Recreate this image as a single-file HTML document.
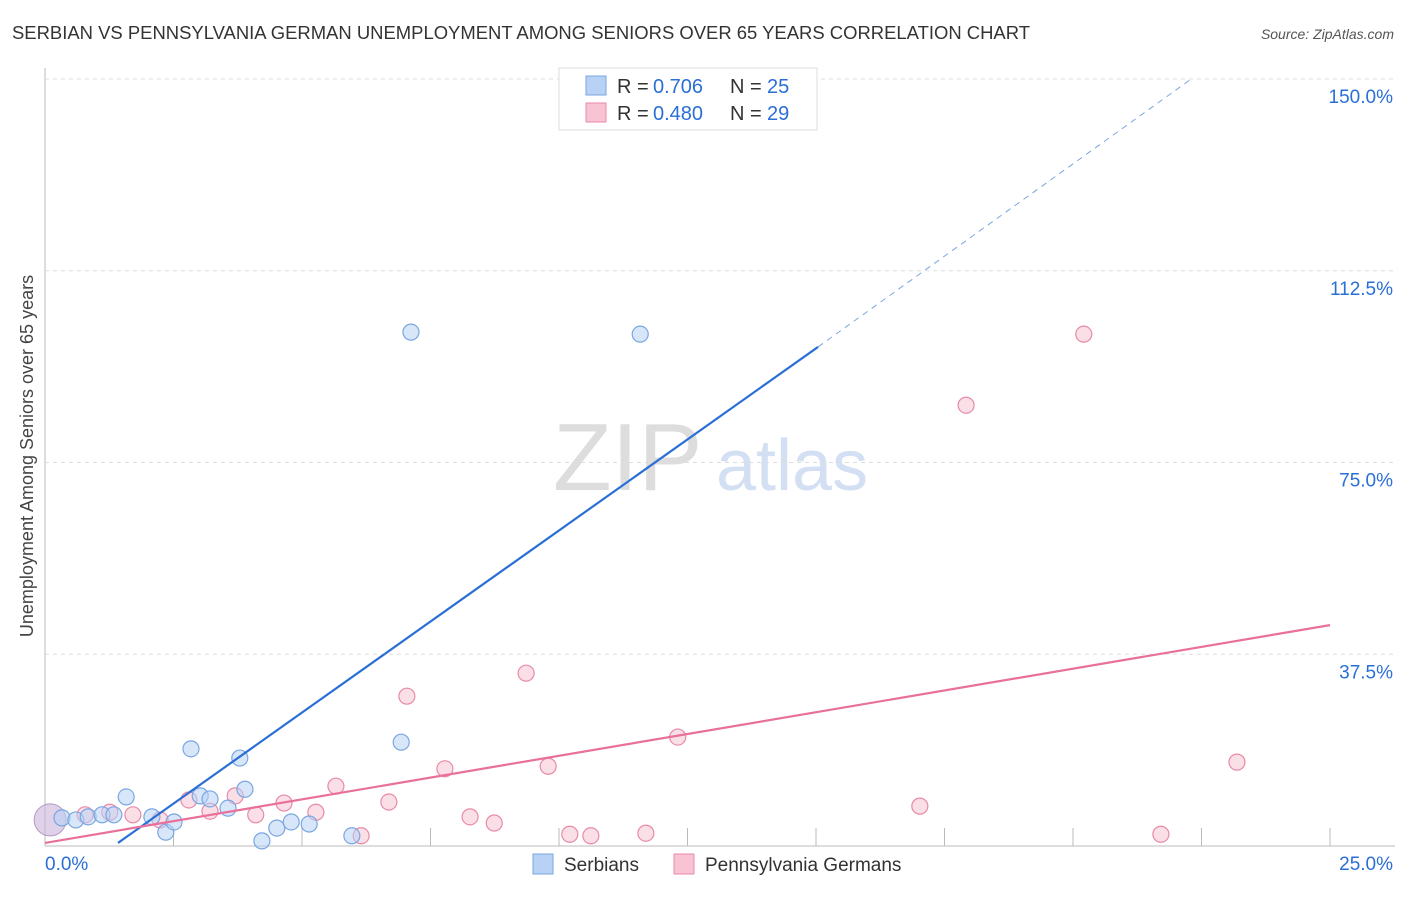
<!DOCTYPE html>
<html><head><meta charset="utf-8"><style>
body{margin:0;background:#fff;font-family:"Liberation Sans",sans-serif;}
svg text{font-family:"Liberation Sans",sans-serif;}
</style></head><body>
<svg id="c" width="1406" height="892">
<text x="12" y="39" font-size="18" fill="#333" textLength="1018" lengthAdjust="spacingAndGlyphs">SERBIAN VS PENNSYLVANIA GERMAN UNEMPLOYMENT AMONG SENIORS OVER 65 YEARS CORRELATION CHART</text>
<text x="1394" y="39" font-size="14" fill="#555" font-style="italic" text-anchor="end">Source: ZipAtlas.com</text>
<text transform="translate(33,456) rotate(-90)" font-size="18" fill="#444" text-anchor="middle">Unemployment Among Seniors over 65 years</text>
<text x="553" y="490" font-size="96" fill="#ddd" font-family="Liberation Serif">ZIP</text>
<text x="716" y="490" font-size="72" fill="#d3dff2">atlas</text>
<g id="grid"></g><g id="marks"></g>
<g>
<rect x="559" y="68" width="258" height="62" fill="#fff" stroke="#ddd"/>
<rect x="586" y="76" width="20" height="19" fill="#b8d2f5" stroke="#7aa6e0"/>
<rect x="586" y="103" width="20" height="19" fill="#f8c4d4" stroke="#e88aa8"/>
<text x="617" y="93" font-size="20" fill="#333">R =</text>
<text x="653" y="93" font-size="20" fill="#2a6fd6">0.706</text>
<text x="730" y="93" font-size="20" fill="#333">N =</text>
<text x="767" y="93" font-size="20" fill="#2a6fd6">25</text>
<text x="617" y="120" font-size="20" fill="#333">R =</text>
<text x="653" y="120" font-size="20" fill="#2a6fd6">0.480</text>
<text x="730" y="120" font-size="20" fill="#333">N =</text>
<text x="767" y="120" font-size="20" fill="#2a6fd6">29</text>
</g>
<g>
<rect x="533" y="854" width="20" height="20" fill="#b8d2f5" stroke="#7aa6e0"/>
<text x="564" y="871" font-size="19" fill="#333">Serbians</text>
<rect x="674" y="854" width="20" height="20" fill="#f8c4d4" stroke="#e88aa8"/>
<text x="705" y="871" font-size="19" fill="#333">Pennsylvania Germans</text>
</g>
</svg>
<script>
const blueX=[0.33,0.60,0.84,1.11,1.34,1.58,2.08,2.35,2.51,2.84,3.02,3.21,3.56,3.79,3.89,4.22,4.51,4.79,5.14,5.97,6.93,7.12,11.58];
const blueY=[5.5,5.1,5.7,6.1,6.1,9.6,5.7,2.7,4.7,19.0,9.8,9.2,7.4,17.2,11.1,1.0,3.5,4.7,4.3,2.0,20.3,100.5,100.1];
const pinkX=[0.78,1.26,1.71,2.24,2.80,3.21,3.70,4.10,4.65,5.27,5.66,6.15,6.69,7.04,7.78,8.27,8.74,9.36,9.79,10.21,10.62,11.69,12.31,17.02,17.92,20.21,21.71,23.19];
const pinkY=[6.1,6.6,6.1,5.1,9.0,6.8,9.8,6.1,8.4,6.6,11.7,2.0,8.6,29.3,15.1,5.7,4.5,33.8,15.6,2.3,2.0,2.5,21.3,7.8,86.2,100.1,2.3,16.4];
const blueLine=[1.42,0.6,15.04,97.6,22.3,150];
const pinkLine=[0,0.6,25,43.2];
const yTicks=[37.5,75,112.5,150];
const xTicks=[2.5,5,7.5,10,12.5,15,17.5,20,22.5,25];
const NS="http://www.w3.org/2000/svg";
const sx=v=>45+v/25*1285, sy=v=>846-v/150*767;
function mk(p,t,a){const e=document.createElementNS(NS,t);for(const k in a)e.setAttribute(k,a[k]);p.appendChild(e);return e;}
const g=document.getElementById('grid'),m=document.getElementById('marks');
let ax=mk(g,'line',{x1:45,y1:68,x2:45,y2:846,stroke:'#bbb'});


let bx=mk(g,'line',{x1:45,y1:846,x2:1395,y2:846,stroke:'#bbb'});


yTicks.forEach(v=>{
 let l=mk(g,'line',{x1:45,y1:sy(v),x2:1395,y2:sy(v),stroke:'#ddd','stroke-dasharray':'4,4'});
 
 
 let t=mk(g,'text',{x:1393,y:sy(v)+24,'font-size':19,fill:'#2a6fd6','text-anchor':'end'});
 t.textContent=v.toFixed(1)+'%';
 
 
});
xTicks.forEach(v=>{
 let l=mk(g,'line',{x1:sx(v),y1:828,x2:sx(v),y2:846,stroke:'#bbb'});
 
 
});
[[0,'0.0%',45,'start'],[25,'25.0%',1393,'end']].forEach(d=>{
 let t=mk(g,'text',{x:d[2],y:870,'font-size':19,fill:'#2a6fd6','text-anchor':d[3]});
 t.textContent=d[1];
 
 
});
function pts(X,Y,f,s,n){X.forEach((x,i)=>{
 let c=mk(m,'circle',{cx:sx(x),cy:sy(Y[i]),r:8,fill:f,'fill-opacity':0.55,stroke:s,'stroke-width':1.2});
 
 
});}
let big=mk(m,'circle',{cx:sx(0.1),cy:sy(5.1),r:16,fill:'#c9b3d8','fill-opacity':0.6,stroke:'#b29ac8'});


pts(pinkX,pinkY,'#f8c4d4','#e88aa8','pennsylvania-german-point');
pts(blueX,blueY,'#b8d2f5','#7aa6e0','serbian-point');
let b1=mk(m,'line',{x1:sx(blueLine[0]),y1:sy(blueLine[1]),x2:sx(blueLine[2]),y2:sy(blueLine[3]),stroke:'#2a6fd6','stroke-width':2.2});


let b2=mk(m,'line',{x1:sx(blueLine[2]),y1:sy(blueLine[3]),x2:sx(blueLine[4]),y2:sy(blueLine[5]),stroke:'#7aa6e0','stroke-width':1,'stroke-dasharray':'6,5'});


let p1=mk(m,'line',{x1:sx(pinkLine[0]),y1:sy(pinkLine[1]),x2:sx(pinkLine[2]),y2:sy(pinkLine[3]),stroke:'#e8709a','stroke-width':2.2});


</script>
</body></html>
